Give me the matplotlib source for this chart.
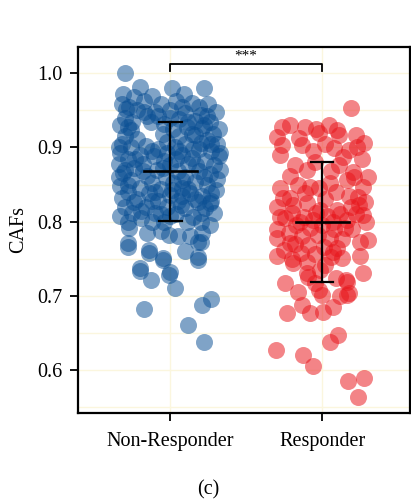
import matplotlib
matplotlib.use("Agg")
import matplotlib.pyplot as plt
import numpy as np

# Groups and their summary statistics (mean ± SD)
groups = ["Non-Responder", "Responder"]
group_means = [0.868, 0.799]
group_sds = [0.067, 0.081]
colors = ["#0a4f94", "#e8141a"]

# Non-Responder observations: (horizontal jitter, CAF value)
nonresp_points = [
    (-0.30, 1.000), (-0.20, 0.981), (0.01, 0.980), (0.22, 0.980), (-0.31, 0.972),
    (-0.24, 0.968), (-0.12, 0.970), (0.09, 0.972), (0.30, 0.948), (-0.32, 0.958),
    (-0.27, 0.955), (-0.17, 0.962), (-0.06, 0.958), (0.04, 0.962), (0.14, 0.960),
    (0.19, 0.955), (0.25, 0.958), (-0.22, 0.950), (-0.10, 0.948), (0.00, 0.950),
    (0.10, 0.946), (0.20, 0.944), (-0.30, 0.940), (-0.15, 0.942), (0.06, 0.938),
    (0.16, 0.936), (0.26, 0.935), (-0.25, 0.935), (-0.04, 0.932), (0.32, 0.925),
    (-0.33, 0.930), (-0.26, 0.924), (0.02, 0.925), (0.11, 0.928), (0.21, 0.926),
    (0.28, 0.918), (-0.30, 0.915), (-0.22, 0.912), (0.06, 0.915), (0.16, 0.917),
    (0.24, 0.910), (-0.32, 0.905), (-0.02, 0.908), (0.10, 0.905), (0.31, 0.905),
    (-0.26, 0.900), (-0.16, 0.902), (-0.08, 0.898), (0.03, 0.900), (0.19, 0.898),
    (0.27, 0.895), (-0.33, 0.892), (-0.20, 0.890), (-0.11, 0.888), (0.08, 0.890),
    (0.14, 0.886), (0.32, 0.888), (-0.28, 0.884), (-0.04, 0.882), (0.23, 0.882),
    (-0.34, 0.878), (-0.18, 0.878), (0.00, 0.876), (0.12, 0.878), (0.29, 0.876),
    (-0.24, 0.872), (-0.09, 0.870), (0.05, 0.868), (0.19, 0.868), (0.26, 0.864),
    (-0.31, 0.866), (-0.15, 0.862), (-0.03, 0.860), (0.10, 0.860), (0.31, 0.858),
    (-0.26, 0.856), (-0.12, 0.852), (0.02, 0.852), (0.16, 0.854), (0.24, 0.850),
    (-0.33, 0.848), (-0.20, 0.846), (-0.06, 0.844), (0.08, 0.845), (0.30, 0.842),
    (-0.28, 0.840), (-0.14, 0.838), (0.00, 0.836), (0.13, 0.838), (0.21, 0.835),
    (-0.22, 0.830), (-0.08, 0.828), (0.05, 0.828), (0.18, 0.826), (0.27, 0.828),
    (-0.32, 0.832), (-0.30, 0.820), (-0.16, 0.820), (-0.02, 0.820), (0.10, 0.818),
    (0.23, 0.818), (-0.25, 0.812), (-0.10, 0.812), (0.04, 0.810), (0.29, 0.812),
    (-0.33, 0.808), (-0.19, 0.805), (0.15, 0.806), (0.20, 0.800), (-0.28, 0.800),
    (-0.04, 0.800), (0.26, 0.796),
    (-0.29, 0.952), (-0.13, 0.935), (0.00, 0.940), (0.22, 0.930), (-0.28, 0.928),
    (0.14, 0.918), (-0.05, 0.918), (0.27, 0.905), (-0.12, 0.895), (0.06, 0.895),
    (-0.23, 0.885), (0.17, 0.876), (0.04, 0.885), (-0.30, 0.870), (-0.05, 0.872),
    (0.22, 0.860), (-0.18, 0.868), (0.08, 0.856), (-0.28, 0.850), (0.12, 0.844),
    (-0.10, 0.840), (0.27, 0.838), (-0.24, 0.826), (0.01, 0.843), (0.16, 0.830),
    (-0.12, 0.828), (0.08, 0.834), (-0.19, 0.815), (0.20, 0.812), (0.07, 0.822),
    (-0.06, 0.810), (0.00, 0.808), (0.11, 0.800), (-0.12, 0.800), (0.26, 0.825),
    (-0.34, 0.860), (0.33, 0.870), (0.33, 0.893), (-0.34, 0.900), (0.20, 0.906),
    (-0.02, 0.892), (0.15, 0.898), (0.24, 0.942), (0.08, 0.955), (-0.08, 0.942),
    (0.12, 0.935), (-0.17, 0.948),
    (-0.27, 0.791), (-0.15, 0.785), (-0.06, 0.787), (-0.01, 0.782), (0.05, 0.780),
    (0.13, 0.780), (0.21, 0.785), (0.18, 0.773), (-0.28, 0.771), (-0.14, 0.762),
    (-0.05, 0.751), (0.18, 0.752), (0.20, 0.772), (0.10, 0.760), (-0.28, 0.766),
    (-0.14, 0.758), (-0.05, 0.748), (0.18, 0.748), (-0.20, 0.737), (0.00, 0.732),
    (-0.20, 0.734), (-0.13, 0.721), (-0.01, 0.728), (0.03, 0.711), (-0.17, 0.682),
    (0.21, 0.688), (0.27, 0.696), (0.12, 0.661), (0.22, 0.638),
]

# Responder observations: (horizontal jitter, CAF value)
resp_points = [
    (0.187, 0.953), (-0.262, 0.928), (-0.209, 0.930), (-0.110, 0.928), (0.048, 0.930),
    (-0.295, 0.914), (-0.150, 0.913), (-0.018, 0.919), (0.114, 0.917), (0.220, 0.917),
    (0.279, 0.906), (-0.262, 0.903), (-0.130, 0.903), (0.081, 0.899), (0.180, 0.897),
    (-0.275, 0.890), (-0.176, 0.877), (-0.044, 0.880), (0.266, 0.885), (0.114, 0.876),
    (-0.097, 0.870), (0.206, 0.867), (0.299, 0.860), (-0.275, 0.845), (-0.209, 0.832),
    (-0.077, 0.847), (0.055, 0.852), (0.167, 0.856), (0.272, 0.847), (0.239, 0.833),
    (-0.295, 0.820), (-0.189, 0.822), (-0.097, 0.825), (-0.011, 0.816), (0.101, 0.816),
    (0.187, 0.820), (0.272, 0.809), (-0.242, 0.805), (-0.143, 0.800), (-0.057, 0.802),
    (0.074, 0.800), (0.167, 0.802), (-0.295, 0.778), (-0.295, 0.753), (-0.209, 0.771),
    (-0.189, 0.744), (-0.242, 0.717), (-0.097, 0.731), (-0.044, 0.717), (-0.011, 0.735),
    (0.074, 0.759), (0.134, 0.751), (0.252, 0.773), (0.252, 0.753), (0.272, 0.731),
    (0.167, 0.718), (0.167, 0.701), (0.002, 0.701), (-0.130, 0.688), (-0.077, 0.677),
    (-0.229, 0.677), (0.009, 0.678), (0.074, 0.685), (0.055, 0.638), (0.107, 0.647),
    (-0.301, 0.627), (-0.123, 0.620), (-0.057, 0.605), (0.173, 0.585), (0.279, 0.589),
    (0.239, 0.564),
    (-0.20, 0.812), (-0.12, 0.806), (-0.04, 0.812), (0.03, 0.808), (0.12, 0.810),
    (-0.17, 0.795), (-0.08, 0.792), (0.00, 0.795), (0.08, 0.790), (0.15, 0.792),
    (-0.22, 0.785), (-0.13, 0.780), (-0.03, 0.782), (0.05, 0.778), (0.13, 0.776),
    (-0.18, 0.770), (-0.09, 0.768), (0.01, 0.766), (0.10, 0.764), (-0.25, 0.762),
    (-0.14, 0.758), (-0.05, 0.756), (0.06, 0.752), (-0.20, 0.750), (-0.10, 0.745),
    (0.02, 0.742), (0.20, 0.790), (0.22, 0.810), (0.28, 0.826), (-0.26, 0.832),
    (-0.11, 0.838), (0.02, 0.830), (0.09, 0.840), (0.18, 0.835), (-0.02, 0.845),
    (-0.16, 0.850), (0.21, 0.860), (0.06, 0.868), (-0.21, 0.862), (0.14, 0.887),
    (-0.06, 0.895), (0.02, 0.905), (0.29, 0.800), (0.30, 0.775), (-0.30, 0.790),
    (-0.09, 0.726), (-0.02, 0.708), (0.12, 0.700), (-0.16, 0.705), (0.09, 0.724),
    (-0.28, 0.806), (0.24, 0.822), (0.23, 0.900), (-0.04, 0.925), (0.10, 0.923),
    (0.156, 0.721), (0.180, 0.704),
]

y_ticks = [0.6, 0.7, 0.8, 0.9, 1.0]
y_tick_labels = ["0.6", "0.7", "0.8", "0.9", "1.0"]
significance = "***"

plt.rcParams["font.family"] = ["Liberation Serif", "DejaVu Serif"]

fig = plt.figure(figsize=(4.11, 5.03), dpi=100)
ax = fig.add_axes([0.19, 0.179, 0.808, 0.7276])

# light background grid (major + minor)
grid_color = "#fbf6de"
for yv in np.arange(0.55, 1.031, 0.05):
    ax.axhline(yv, color=grid_color, lw=1.0, zorder=0)
for xv in (1, 2):
    ax.axvline(xv, color=grid_color, lw=1.0, zorder=0)

for i, pts in enumerate([nonresp_points, resp_points]):
    arr = np.array(pts)
    ax.scatter(i + 1 + arr[:, 0], arr[:, 1], s=150, color=colors[i],
               alpha=0.52, linewidths=0, zorder=2)

# mean ± SD crossbars
for i, (m, sd) in enumerate(zip(group_means, group_sds)):
    x = i + 1
    ax.plot([x, x], [m - sd, m + sd], color="black", lw=1.6, zorder=4)
    ax.plot([x - 0.075, x + 0.075], [m + sd, m + sd], color="black", lw=1.6, zorder=4)
    ax.plot([x - 0.075, x + 0.075], [m - sd, m - sd], color="black", lw=1.6, zorder=4)
    ax.plot([x - 0.175, x + 0.175], [m, m], color="black", lw=1.9, zorder=4)

# significance bracket
ax.plot([1, 1, 2, 2], [1.003, 1.0125, 1.0125, 1.003], color="black", lw=1.3,
        zorder=4, clip_on=False)
ax.text(1.5, 1.0145, significance, ha="center", va="bottom", fontsize=11)

ax.set_xlim(0.393, 2.58)
ax.set_ylim(0.542, 1.0355)
ax.set_xticks([1, 2])
ax.set_xticklabels(groups, fontsize=14.5)
ax.set_yticks(y_ticks)
ax.set_yticklabels(y_tick_labels, fontsize=14.5)
ax.tick_params(axis="x", direction="out", length=5.5, width=1.3, color="black",
               pad=8)
ax.tick_params(axis="y", direction="out", length=5.5, width=1.3, color="black",
               pad=6)
ax.set_ylabel("CAFs", fontsize=14.5, labelpad=6)
for sp in ax.spines.values():
    sp.set_color("black")
    sp.set_linewidth(1.6)

fig.text(208 / 411, 1 - 490 / 503, "(c)", ha="center", va="center", fontsize=14.5)

fig.savefig("out.png", dpi=100)
